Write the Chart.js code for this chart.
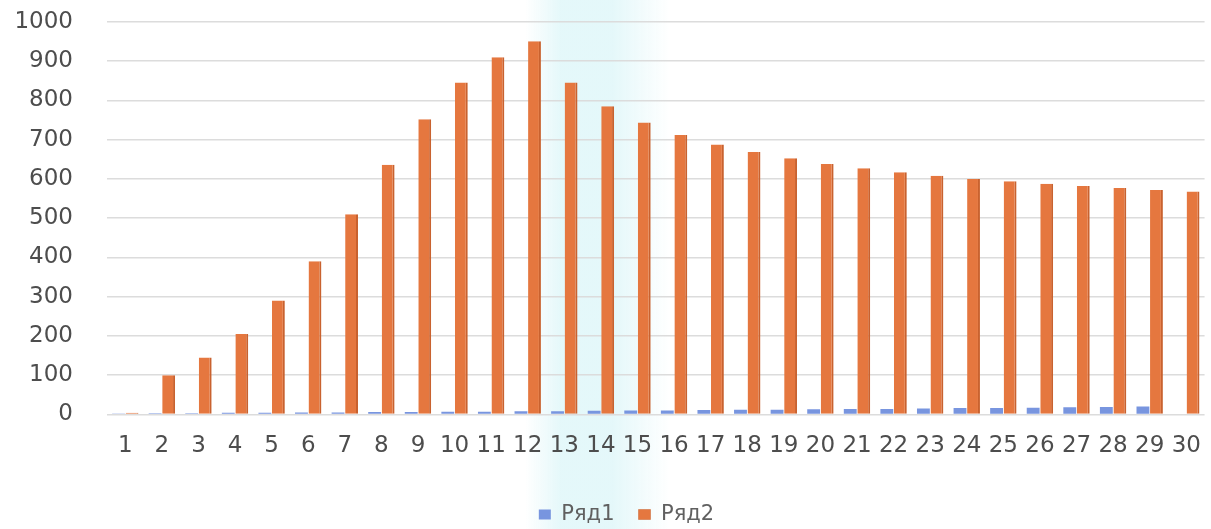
<!DOCTYPE html>
<html>
<head>
<meta charset="utf-8">
<script src="https://cdn.jsdelivr.net/npm/chart.js@4/dist/chart.umd.min.js"></script>
<style>
  html, body { margin: 0; padding: 0; background: #ffffff; }
  #wrap { width: 1211px; height: 529px; }
</style>
</head>
<body>
<div id="wrap"><canvas id="c" width="1211" height="529"></canvas></div>
<script>
const categories = ['1','2','3','4','5','6','7','8','9','10','11','12','13','14','15',
                    '16','17','18','19','20','21','22','23','24','25','26','27','28','29','30'];
const series1 = [2, 3, 3, 4, 4, 5, 5, 6, 6, 7, 7, 8, 8, 9, 10,
                 10, 11, 12, 12, 13, 14, 14, 15, 16, 16, 17, 18, 19, 20, null];
const series2 = [4, 100, 145, 205, 290, 390, 510, 636, 752, 846, 910, 951, 846, 785, 744,
                 712, 688, 669, 653, 638, 627, 617, 608, 600, 594, 588, 582, 577, 572, 568];
const seriesNames = ['Ряд1', 'Ряд2'];
const yTicks = [0, 100, 200, 300, 400, 500, 600, 700, 800, 900, 1000];

// soft cyan tint band behind the plot
const tintBand = {
  id: 'tintBand',
  beforeDraw(chart) {
    const ctx = chart.ctx;
    const g = ctx.createLinearGradient(525, 0, 670, 0);
    g.addColorStop(0, 'rgba(214,244,247,0)');
    g.addColorStop(0.25, 'rgba(214,244,247,0.65)');
    g.addColorStop(0.6, 'rgba(214,244,247,0.65)');
    g.addColorStop(1, 'rgba(214,244,247,0)');
    ctx.save();
    ctx.fillStyle = g;
    ctx.fillRect(525, 0, 145, chart.height);
    ctx.restore();
  }
};

// nudge the legend a little right and down
const legendShift = {
  id: 'legendShift',
  afterLayout(chart) {
    const lg = chart.legend;
    if (lg) { lg.left += 20; lg.right += 20; lg.top += 10; lg.bottom += 10; }
  }
};

new Chart(document.getElementById('c'), {
  type: 'bar',
  data: {
    labels: categories,
    datasets: [
      { label: seriesNames[0], data: series1, backgroundColor: '#7895df',
        categoryPercentage: 0.74, barPercentage: 0.95 },
      { label: seriesNames[1], data: series2, backgroundColor: '#e5773f',
        borderColor: '#c9622f', borderWidth: { right: 2 }, borderSkipped: 'bottom',
        categoryPercentage: 0.74, barPercentage: 0.95 }
    ]
  },
  options: {
    responsive: false,
    animation: false,
    layout: { padding: { left: 7, right: 5, top: 22, bottom: 4 } },
    plugins: {
      tooltip: { enabled: false },
      legend: {
        position: 'bottom',
        labels: {
          boxWidth: 12, boxHeight: 10, padding: 24,
          color: '#606060',
          font: { family: 'DejaVu Sans', size: 21 }
        }
      }
    },
    scales: {
      x: {
        grid: { display: false },
        border: { display: false },
        ticks: {
          color: '#4d4d4d', padding: 10, maxRotation: 0, autoSkip: false,
          font: { family: 'DejaVu Sans', size: 23 }
        }
      },
      y: {
        min: 0, max: 1000,
        afterBuildTicks(scale) { scale.ticks = yTicks.map(v => ({ value: v })); },
        afterFit(scale) { scale.width = 100; },
        grid: { color: '#dcdcdc', lineWidth: 1.5, drawTicks: true, tickLength: 34,
                tickColor: 'rgba(0,0,0,0)' },
        border: { display: false },
        ticks: {
          color: '#4d4d4d', padding: 0,
          font: { family: 'DejaVu Sans', size: 23 },
          callback: v => String(v)
        }
      }
    }
  },
  plugins: [tintBand, legendShift]
});
</script>
</body>
</html>
